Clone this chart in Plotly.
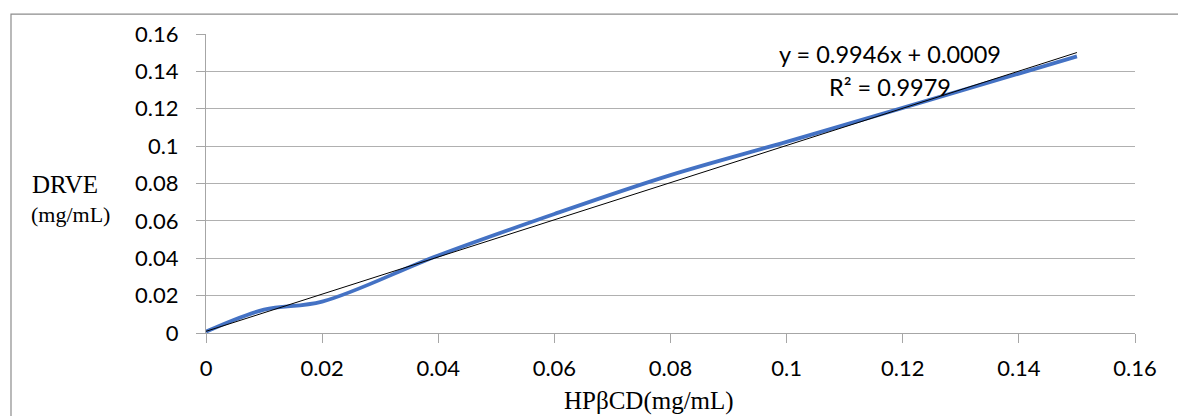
import plotly.graph_objects as go

# Data
hpbcd = [0, 0.01, 0.02, 0.04, 0.06, 0.08, 0.10, 0.12, 0.15]
drve = [0.0007, 0.0125, 0.0168, 0.0415, 0.0637, 0.0845, 0.1023, 0.1205, 0.148]

slope = 0.9946
intercept = 0.0009
r2 = 0.9979
trend_x = [0, 0.15]
trend_y = [slope * v + intercept for v in trend_x]

tick_vals = [0, 0.02, 0.04, 0.06, 0.08, 0.1, 0.12, 0.14, 0.16]
tick_text = ["0", "0.02", "0.04", "0.06", "0.08", "0.1", "0.12", "0.14", "0.16"]

# page is rendered with an 8px body margin
OFF = 8
PAGE_W, PAGE_H = 1186, 416
W, H = PAGE_W - OFF, PAGE_H - OFF
# plot area in page pixels: x 206..1135, y 32..333
L = 206 - OFF
T = 32 - OFF
R = W - (1135 - OFF)
B = H - (333 - OFF)
pw, ph = W - L - R, H - T - B

fig = go.Figure()
fig.add_trace(go.Scatter(
    x=hpbcd, y=drve, mode="lines",
    line=dict(color="#4472C4", width=3.8, shape="spline", smoothing=1.0),
    showlegend=False, hoverinfo="skip"))
fig.add_trace(go.Scatter(
    x=trend_x, y=trend_y, mode="lines",
    line=dict(color="#000000", width=1),
    showlegend=False, hoverinfo="skip"))

tick_font = dict(family="Lato", size=22, color="#000000")
fig.update_xaxes(
    range=[0, 0.16], tickvals=tick_vals, ticktext=tick_text,
    showgrid=False, zeroline=False,
    showline=True, linecolor="#A6A6A6", linewidth=1,
    ticks="outside", ticklen=9, tickcolor="#A6A6A6",
    tickfont=tick_font, ticklabelstandoff=7)
fig.update_yaxes(
    range=[0, 0.16], tickvals=tick_vals, ticktext=tick_text,
    showgrid=True, gridcolor="#B0B0B0", gridwidth=1, zeroline=False,
    showline=True, linecolor="#A6A6A6", linewidth=1,
    ticks="outside", ticklen=9, tickcolor="#A6A6A6",
    tickfont=tick_font, ticklabelstandoff=13)

def px_x(p):
    # page pixel -> paper fraction
    return (p - OFF - L) / pw

def px_y(p):
    return (H - B - (p - OFF)) / ph

annotations = [
    dict(text="y = 0.9946x + 0.0009", x=px_x(890), y=px_y(52)),
    dict(text="R² = 0.9979", x=px_x(890), y=px_y(85)),
]
for a in annotations:
    fig.add_annotation(xref="paper", yref="paper", x=a["x"], y=a["y"],
                       text=a["text"], showarrow=False,
                       xanchor="center", yanchor="middle",
                       font=dict(family="Lato", size=23.5, color="#000000"))

fig.add_annotation(xref="paper", yref="paper", x=px_x(65), y=px_y(184),
                   text="DRVE", showarrow=False, xanchor="center", yanchor="middle",
                   font=dict(family="Liberation Serif", size=25, color="#000000"))
fig.add_annotation(xref="paper", yref="paper", x=px_x(70), y=px_y(214),
                   text="(mg/mL)", showarrow=False, xanchor="center", yanchor="middle",
                   font=dict(family="Liberation Serif", size=22, color="#000000"))
fig.add_annotation(xref="paper", yref="paper", x=px_x(649), y=px_y(401),
                   text="HPβCD(mg/mL)", showarrow=False, xanchor="center", yanchor="middle",
                   font=dict(family="Liberation Serif", size=25, color="#000000"))

# outer chart border (extends past the right and bottom edges)
fig.add_shape(type="rect", xref="paper", yref="paper",
              x0=px_x(11), x1=px_x(1200), y0=px_y(430), y1=px_y(12),
              line=dict(color="#8C8C8C", width=1.2), fillcolor="rgba(0,0,0,0)",
              layer="above")

fig.update_layout(
    width=W, height=H,
    margin=dict(l=L, r=R, t=T, b=B),
    paper_bgcolor="white", plot_bgcolor="white",
    showlegend=False)

fig.write_html("out.html")
